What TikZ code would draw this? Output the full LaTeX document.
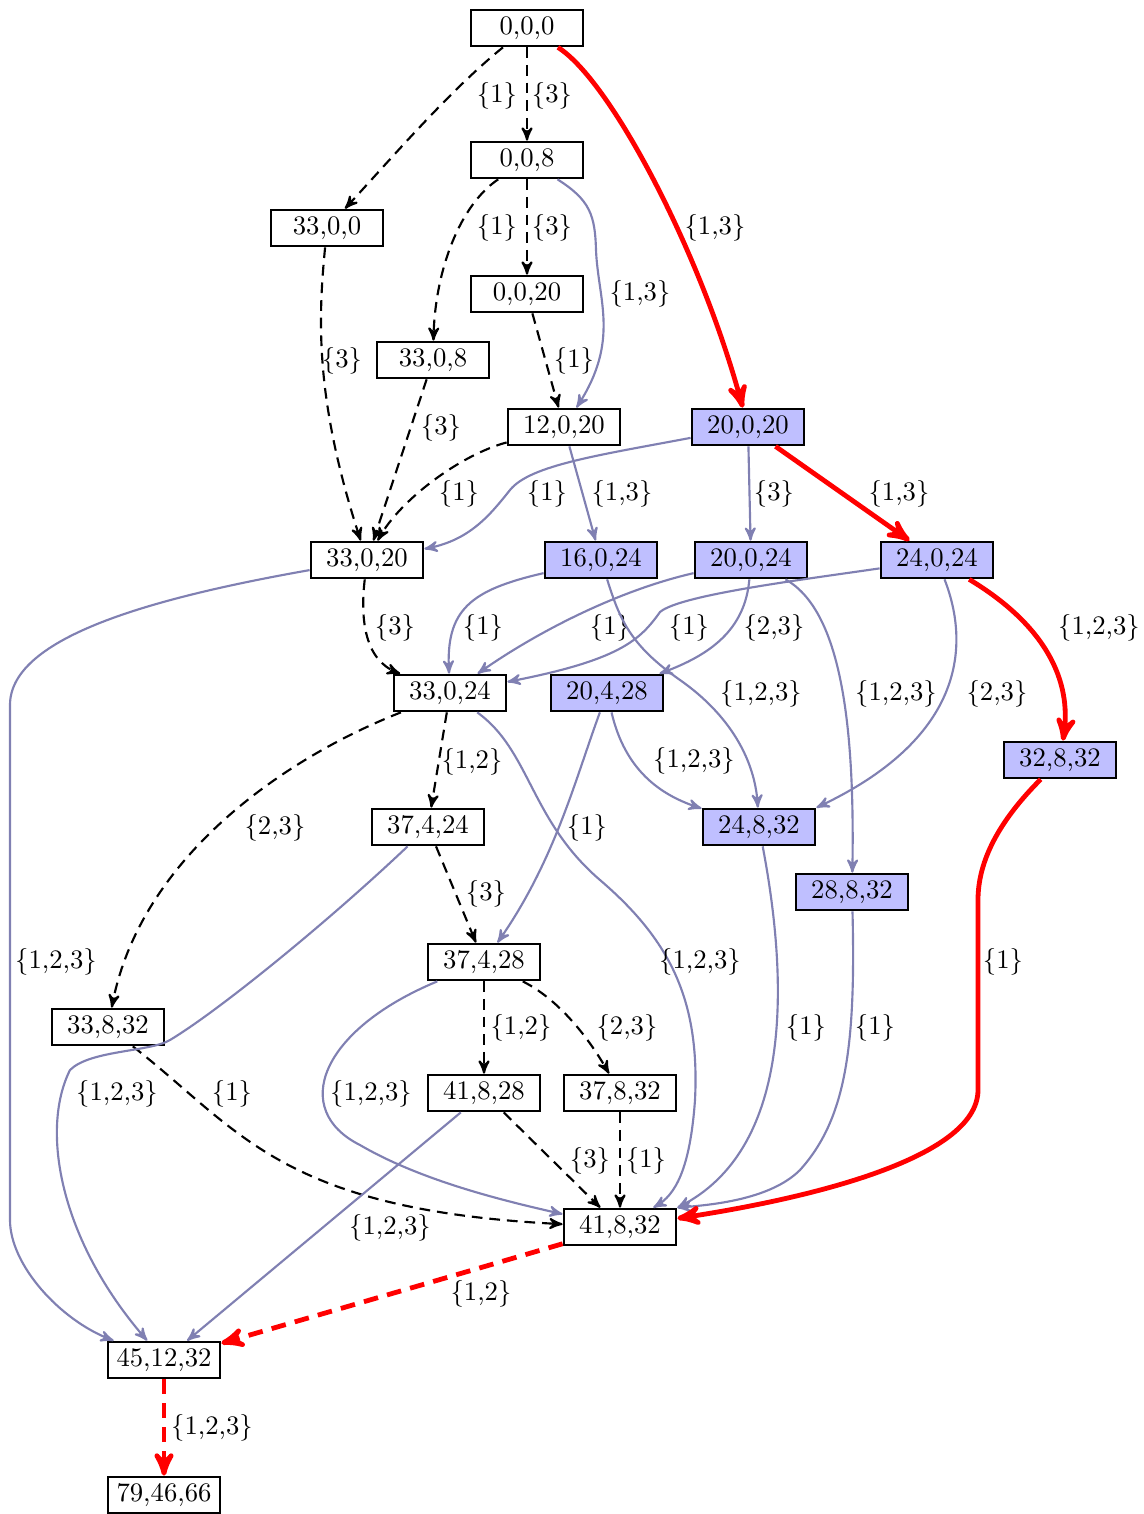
\documentclass[tikz,border=0pt]{standalone}
\usetikzlibrary{arrows}
\definecolor{edgecol}{RGB}{128,128,178}
\tikzset{
    state/.style={draw, line width=1pt, minimum width=42pt, minimum height=13.5pt, inner sep=0pt},
    hot/.style={state, fill=blue!25},
    lbl/.style={inner sep=0pt},
    dedge/.style={draw=black, dash pattern=on 4pt off 2.6pt, line width=0.8pt, -stealth'},
    pedge/.style={draw=edgecol, line width=0.8pt, -stealth'},
    redge/.style={draw=red, line width=1.8pt, -stealth'},
    rdedge/.style={redge, dash pattern=on 5.5pt off 3.5pt}
}
\begin{document}
\begin{tikzpicture}[x=0.3745pt, y=-0.3745pt]
    \useasboundingbox (0,0) rectangle (1144,1514);
    %Zustaende
    \node[state] (n000)   at (527,28)   {0,0,0};
    \node[state] (n008)   at (527,160)  {0,0,8};
    \node[state] (n3300)  at (327,228)  {33,0,0};
    \node[state] (n0020)  at (527,294)  {0,0,20};
    \node[state] (n3308)  at (433,360)  {33,0,8};
    \node[state] (n12020) at (564,427)  {12,0,20};
    \node[hot]   (n20020) at (748,427)  {20,0,20};
    \node[state] (n33020) at (367,560)  {33,0,20};
    \node[hot]   (n16024) at (601,560)  {16,0,24};
    \node[hot]   (n20024) at (751,560)  {20,0,24};
    \node[hot]   (n24024) at (937,560)  {24,0,24};
    \node[state] (n33024) at (450,693)  {33,0,24};
    \node[hot]   (n20428) at (607,693)  {20,4,28};
    \node[hot]   (n32832) at (1060,760) {32,8,32};
    \node[state] (n37424) at (428,827)  {37,4,24};
    \node[hot]   (n24832) at (759,827)  {24,8,32};
    \node[hot]   (n28832) at (852,892)  {28,8,32};
    \node[state] (n37428) at (484,962)  {37,4,28};
    \node[state] (n33832) at (108,1027) {33,8,32};
    \node[state] (n41828) at (484,1093) {41,8,28};
    \node[state] (n37832) at (620,1093) {37,8,32};
    \node[state] (n41832) at (620,1227) {41,8,32};
    \node[state] (n451232) at (164,1360) {45,12,32};
    \node[state] (n794666) at (164,1495) {79,46,66};

    %gestrichelt
    \draw[dedge] (n000) .. controls (450,90) and (390,160) .. (n3300) node[lbl] at (497,96) {\{1\}};
    \draw[dedge] (n000) -- (n008) node[lbl] at (552,96) {\{3\}};
    \draw[dedge] (n008) .. controls (460,205) and (435,270) .. (n3308) node[lbl] at (497,228) {\{1\}};
    \draw[dedge] (n008) -- (n0020) node[lbl] at (552,228) {\{3\}};
    \draw[dedge] (n3300) .. controls (318,320) and (315,400) .. (n33020) node[lbl] at (342,361) {\{3\}};
    \draw[dedge] (n0020) -- (n12020) node[lbl] at (574,361) {\{1\}};
    \draw[dedge] (n3308) -- (n33020) node[lbl] at (441,428) {\{3\}};
    \draw[dedge] (n12020) .. controls (460,455) and (400,500) .. (n33020) node[lbl] at (459,494) {\{1\}};
    \draw[dedge] (n33020) .. controls (360,620) and (365,660) .. (n33024) node[lbl] at (395,628) {\{3\}};
    \draw[dedge] (n33024) -- (n37424) node[lbl] at (472,762) {\{1,2\}};
    \draw[dedge] (n33024) .. controls (280,760) and (140,860) .. (n33832) node[lbl] at (275,828) {\{2,3\}};
    \draw[dedge] (n37424) -- (n37428) node[lbl] at (486,894) {\{3\}};
    \draw[dedge] (n33832) .. controls (240,1130) and (280,1210) .. (n41832) node[lbl] at (232,1094) {\{1\}};
    \draw[dedge] (n37428) -- (n41828) node[lbl] at (521,1028) {\{1,2\}};
    \draw[dedge] (n37428) .. controls (560,1000) and (590,1040) .. (n37832) node[lbl] at (627,1028) {\{2,3\}};
    \draw[dedge] (n41828) -- (n41832) node[lbl] at (590,1161) {\{3\}};
    \draw[dedge] (n37832) -- (n41832) node[lbl] at (646,1161) {\{1\}};

    %blau
    \draw[pedge] (n008) .. controls (590,200) and (595,215) .. (596,250)
        .. controls (598,300) and (620,340) .. (n12020) node[lbl] at (640,294) {\{1,3\}};
    \draw[pedge] (n20020) .. controls (600,455) and (530,465) .. (510,490)
        .. controls (490,515) and (470,540) .. (n33020) node[lbl] at (547,494) {\{1\}};
    \draw[pedge] (n12020) -- (n16024) node[lbl] at (622,494) {\{1,3\}};
    \draw[pedge] (n20020) -- (n20024) node[lbl] at (774,494) {\{3\}};
    \draw[pedge] (n33020) .. controls (140,600) and (10,640) .. (10,705) -- (10,1220)
        .. controls (10,1265) and (60,1320) .. (n451232) node[lbl] at (56,962) {\{1,2,3\}};
    \draw[pedge] (n16024) .. controls (470,590) and (446,610) .. (n33024) node[lbl] at (483,628) {\{1\}};
    \draw[pedge] (n20024) .. controls (620,590) and (540,630) .. (n33024) node[lbl] at (610,628) {\{1\}};
    \draw[pedge] (n24024) .. controls (800,580) and (680,595) .. (660,612)
        .. controls (640,640) and (620,660) .. (n33024) node[lbl] at (689,628) {\{1\}};
    \draw[pedge] (n20024) .. controls (745,630) and (710,655) .. (n20428) node[lbl] at (774,628) {\{2,3\}};
    \draw[pedge] (n16024) .. controls (620,620) and (630,645) .. (680,680)
        .. controls (730,715) and (755,760) .. (n24832) node[lbl] at (761,694) {\{1,2,3\}};
    \draw[pedge] (n20024) .. controls (840,610) and (855,720) .. (n28832) node[lbl] at (896,694) {\{1,2,3\}};
    \draw[pedge] (n24024) .. controls (972,650) and (960,740) .. (n24832.north east) node[lbl] at (997,694) {\{2,3\}};
    \draw[pedge] (n20428) .. controls (625,770) and (660,795) .. (n24832) node[lbl] at (694,761) {\{1,2,3\}};
    \draw[pedge] (n20428) .. controls (575,780) and (555,860) .. (n37428) node[lbl] at (587,828) {\{1\}};
    \draw[pedge] (n33024) .. controls (530,750) and (530,820) .. (600,880)
        .. controls (670,940) and (700,1000) .. (695,1100)
        .. controls (690,1170) and (675,1195) .. (n41832) node[lbl] at (700,962) {\{1,2,3\}};
    \draw[pedge] (n37424) .. controls (330,920) and (220,1010) .. (170,1040)
        .. controls (150,1052) and (90,1050) .. (70,1070)
        .. controls (40,1130) and (60,1240) .. (n451232) node[lbl] at (117,1094) {\{1,2,3\}};
    \draw[pedge] (n37428) .. controls (320,1030) and (290,1110) .. (360,1145)
        .. controls (420,1180) and (500,1200) .. (n41832) node[lbl] at (371,1094) {\{1,2,3\}};
    \draw[pedge] (n41828) -- (n451232) node[lbl] at (390,1228) {\{1,2,3\}};
    \draw[pedge] (n24832) .. controls (790,990) and (790,1150) .. (n41832.north east) node[lbl] at (806,1028) {\{1\}};
    \draw[pedge] (n28832) .. controls (856,1050) and (845,1120) .. (800,1170)
        .. controls (770,1200) and (710,1205) .. (n41832.north east) node[lbl] at (875,1028) {\{1\}};

    %rot
    \draw[redge] (n000) .. controls (610,80) and (700,250) .. (n20020) node[lbl] at (715,228) {\{1,3\}};
    \draw[redge] (n20020) -- (n24024) node[lbl] at (899,494) {\{1,3\}};
    \draw[redge] (n24024) .. controls (1045,625) and (1072,680) .. (n32832) node[lbl] at (1099,628) {\{1,2,3\}};
    \draw[redge] (n32832) .. controls (1000,820) and (978,860) .. (978,900) -- (978,1090)
        .. controls (978,1160) and (800,1200) .. (n41832) node[lbl] at (1003,962) {\{1\}};
    \draw[rdedge] (n41832) -- (n451232) node[lbl] at (481,1294) {\{1,2\}};
    \draw[rdedge] (n451232) -- (n794666) node[lbl] at (212,1428) {\{1,2,3\}};
\end{tikzpicture}
\end{document}
